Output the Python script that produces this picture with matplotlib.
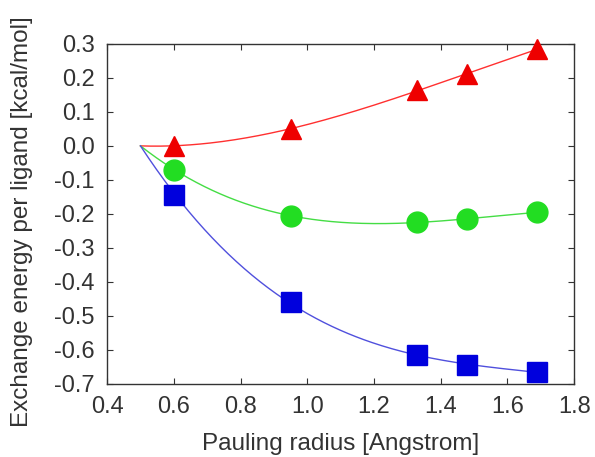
import numpy as np
import matplotlib.pyplot as plt

plt.rcParams['font.family'] = ['Liberation Sans', 'DejaVu Sans']

# Pauling radii of the ions [Angstrom]
radius = [0.60, 0.95, 1.33, 1.48, 1.69]
# exchange energy per ligand [kcal/mol]
red_vals = [0.00, 0.05, 0.165, 0.21, 0.285]
green_vals = [-0.07, -0.205, -0.225, -0.215, -0.195]
blue_vals = [-0.145, -0.46, -0.615, -0.645, -0.665]
# all fitted curves start at this point
x0 = 0.5

fig = plt.figure(figsize=(5.95, 4.57), dpi=100)
ax = fig.add_axes([0.18, 0.16, 0.785, 0.744])


def fit_curve(x, y):
    # least squares fit a*d + b*d^2 + c*d^3 through (x0, 0)
    d = np.asarray(x) - x0
    A = np.column_stack([d, d ** 2, d ** 3])
    coef = np.linalg.lstsq(A, np.asarray(y), rcond=None)[0]
    xs = np.linspace(x0, max(x), 200)
    ds = xs - x0
    return xs, coef[0] * ds + coef[1] * ds ** 2 + coef[2] * ds ** 3


series = [
    (red_vals, '#ee0000', '#ff3030', '^', 15),
    (green_vals, '#22dd22', '#44dd44', 'o', 15),
    (blue_vals, '#0000dd', '#5050dd', 's', 15),
]
for vals, mcol, lcol, mk, ms in series:
    xs, ys = fit_curve(radius, vals)
    ax.plot(xs, ys, color=lcol, lw=1.0, zorder=2)
    ax.plot(radius, vals, linestyle='none', marker=mk, ms=ms,
            color=mcol, mec=mcol, zorder=3, clip_on=False)


def fmt(v, pos):
    if abs(v) < 1e-9:
        v = 0.0
    return f'{v:.1f}'


ax.set_xlim(0.4, 1.8)
ax.set_ylim(-0.7, 0.3)
ax.set_xticks(np.arange(0.4, 1.81, 0.2))
ax.set_yticks(np.arange(-0.7, 0.31, 0.1))
ax.xaxis.set_major_formatter(plt.FuncFormatter(fmt))
ax.yaxis.set_major_formatter(plt.FuncFormatter(fmt))
ax.tick_params(direction='in', top=True, right=True, length=4,
               labelsize=17, color='#333333', labelcolor='#333333', pad=9)
for s in ax.spines.values():
    s.set_color('#333333')
    s.set_linewidth(1.0)

ax.set_xlabel('Pauling radius [Angstrom]', fontsize=17.5, color='#333333')
ax.set_ylabel('Exchange energy per ligand [kcal/mol]', fontsize=17.5, color='#333333')
ax.xaxis.set_label_coords(0.501, -0.145)
ax.yaxis.set_label_coords(-0.158, 0.476)

fig.savefig('out.png', dpi=100)
